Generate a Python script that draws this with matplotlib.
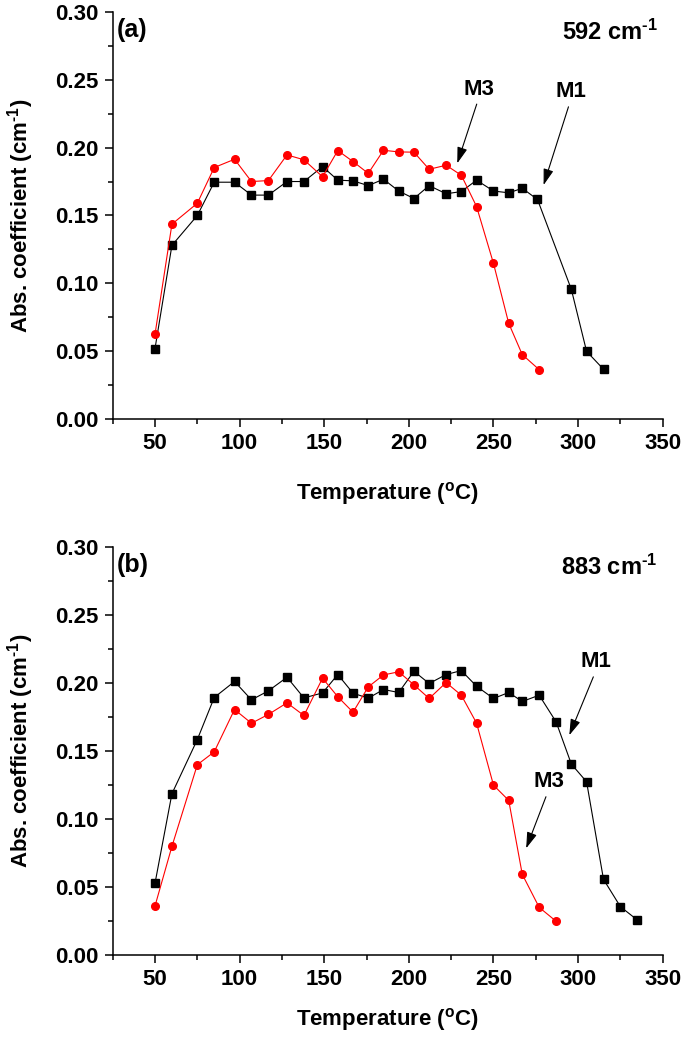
import matplotlib
matplotlib.use('Agg')
import matplotlib.pyplot as plt
from matplotlib.ticker import MultipleLocator, FormatStrFormatter

plt.rcParams['font.family'] = 'Liberation Sans'
plt.rcParams['font.weight'] = 'bold'
plt.rcParams['mathtext.fontset'] = 'custom'
plt.rcParams['mathtext.rm'] = 'Liberation Sans:bold'
plt.rcParams['mathtext.bf'] = 'Liberation Sans:bold'
plt.rcParams['mathtext.default'] = 'bf'

# (a) 592 cm-1
temp_a_m1 = [50, 60, 75, 85, 97, 107, 117, 128, 138, 149, 158, 167, 176, 185, 194,
             203, 212, 222, 231, 240, 250, 259, 267, 276, 296, 305, 315]
abs_a_m1 = [0.052, 0.128, 0.150, 0.1745, 0.1745, 0.165, 0.165, 0.175, 0.175, 0.186,
            0.176, 0.1755, 0.172, 0.1767, 0.168, 0.1625, 0.172, 0.166, 0.1676, 0.176,
            0.168, 0.1667, 0.170, 0.1618, 0.0956, 0.050, 0.0368]
temp_a_m3 = [50, 60, 75, 85, 97, 107, 117, 128, 138, 149, 158, 167, 176, 185, 194,
             203, 212, 222, 231, 240, 250, 259, 267, 277]
abs_a_m3 = [0.0625, 0.1436, 0.159, 0.1853, 0.1914, 0.175, 0.1757, 0.1946, 0.191, 0.1785,
            0.1978, 0.1897, 0.181, 0.198, 0.1968, 0.1966, 0.184, 0.187, 0.1796, 0.1566,
            0.1147, 0.0706, 0.0476, 0.0365]

# (b) 883 cm-1
temp_b_m1 = [50, 60, 75, 85, 97, 107, 117, 128, 138, 149, 158, 167, 176, 185, 194,
             203, 212, 222, 231, 240, 250, 259, 267, 277, 287, 296, 305, 315, 325, 335]
abs_b_m1 = [0.0529, 0.1187, 0.1585, 0.1894, 0.2012, 0.1877, 0.1943, 0.2043, 0.1891, 0.1928,
            0.2063, 0.1926, 0.1889, 0.1953, 0.1931, 0.2087, 0.1997, 0.2063, 0.2092, 0.1977,
            0.1887, 0.1931, 0.1865, 0.1911, 0.1715, 0.1405, 0.1275, 0.0558, 0.0357, 0.0259]
temp_b_m3 = [50, 60, 75, 85, 97, 107, 117, 128, 138, 149, 158, 167, 176, 185, 194,
             203, 212, 222, 231, 240, 250, 259, 267, 277, 287]
abs_b_m3 = [0.0362, 0.080, 0.140, 0.1495, 0.1806, 0.1705, 0.177, 0.1855, 0.1762, 0.2036,
            0.190, 0.1786, 0.1972, 0.206, 0.2083, 0.1987, 0.1887, 0.2004, 0.1911, 0.1706,
            0.125, 0.1138, 0.0595, 0.0352, 0.025]

panels = [
    ('(a)', r'592 cm$^{\text{-1}}$', temp_a_m1, abs_a_m1, temp_a_m3, abs_a_m3,
     [('M3', (241.6, 0.243), (228.6, 0.1884)), ('M1', (295.8, 0.241), (279.6, 0.1724))]),
    ('(b)', r'883 cm$^{\text{-1}}$', temp_b_m1, abs_b_m1, temp_b_m3, abs_b_m3,
     [('M1', (310.5, 0.2156), (294.8, 0.1617)), ('M3', (282.5, 0.1275), (269.3, 0.0786))]),
]

fig = plt.figure(figsize=(6.85, 10.37), dpi=100)
axes = [fig.add_axes([0.1645, 0.5957, 0.803, 0.393]),
        fig.add_axes([0.1645, 0.0788, 0.803, 0.3937])]

for ax, (tag, band, t1, a1, t3, a3, notes), xlab_y in zip(axes, panels, [-0.15, -0.123]):
    ax.plot(t1, a1, color='black', marker='s', markersize=5.5, linewidth=0.8)
    ax.plot(t3, a3, color='red', marker='o', markersize=5.5, linewidth=0.8)

    ax.set_xlim(25, 350)
    ax.set_ylim(0, 0.30)
    ax.set_xticks([50, 100, 150, 200, 250, 300, 350])
    ax.xaxis.set_minor_locator(MultipleLocator(25))
    ax.yaxis.set_major_locator(MultipleLocator(0.05))
    ax.yaxis.set_minor_locator(MultipleLocator(0.025))
    ax.yaxis.set_major_formatter(FormatStrFormatter('%.2f'))

    for side in ['top', 'right']:
        ax.spines[side].set_visible(False)
    for side in ['left', 'bottom']:
        ax.spines[side].set_linewidth(1.1)
    ax.tick_params(which='major', direction='out', length=6, width=1.1, labelsize=16, pad=4)
    ax.tick_params(which='minor', direction='out', length=3.5, width=1.1)

    ax.set_xlabel(r'Temperature ($^{\mathrm{o}}$C)', fontsize=16, fontweight='bold')
    ax.set_ylabel(r'Abs. coefficient (cm$^{\text{-1}}$)', fontsize=16, fontweight='bold')
    ax.xaxis.set_label_coords(0.5, xlab_y)
    ax.yaxis.set_label_coords(-0.14, 0.5)

    ax.text(27.5, 0.2865, tag, fontsize=18, fontweight='bold', va='center', ha='left')
    ax.text(347, 0.285, band, fontsize=17, fontweight='bold', va='center', ha='right')

    for label, txt_xy, head_xy in notes:
        ax.text(txt_xy[0], txt_xy[1], label, fontsize=16, fontweight='bold',
                ha='center', va='center')
        ax.annotate('', xy=head_xy, xytext=(txt_xy[0] - 1.5, txt_xy[1] - 0.011),
                    arrowprops=dict(arrowstyle='-|>,head_length=0.7,head_width=0.22',
                                    color='black', lw=0.8,
                                    mutation_scale=14, shrinkA=0, shrinkB=0))

fig.savefig('out.png', dpi=100)
